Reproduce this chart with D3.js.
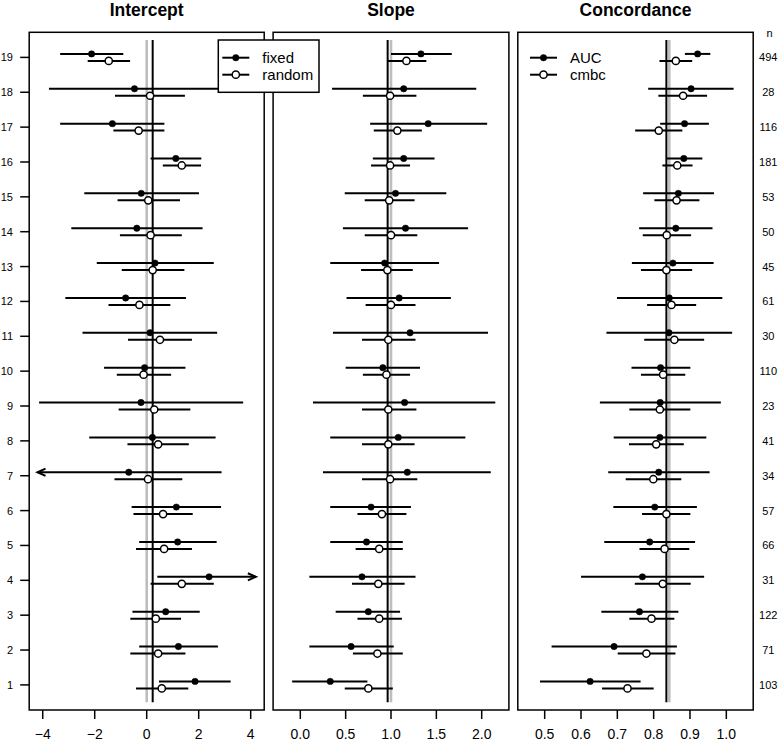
<!DOCTYPE html>
<html>
<head>
<meta charset="utf-8">
<script src="https://cdn.jsdelivr.net/npm/d3@7"></script>
<style>
  body { margin: 0; background: #fff; }
  svg { display: block; font-family: "Liberation Sans", Arial, Helvetica, sans-serif; }
</style>
</head>
<body>
<svg id="chart" width="778" height="743"></svg>
<script>
// ---------------- data (rows 1..19) ----------------
const rows = d3.range(1, 20);
const nLabels = [103, 71, 122, 31, 66, 57, 34, 41, 23, 110, 30, 61, 45, 50, 53, 181, 116, 28, 494];

const panelTitles = ["Intercept", "Slope", "Concordance"];
const legend1 = ["fixed", "random"];
const legend2 = ["AUC", "cmbc"];

const interceptTicks = [-4, -2, 0, 2, 4];
const slopeTicks = [0, 0.5, 1, 1.5, 2];
const concTicks = [0.5, 0.6, 0.7, 0.8, 0.9, 1.0];

// Intercept: fixed
const intFixedEst = [1.86, 1.22, 0.73, 2.40, 1.19, 1.14, -0.69, 0.22, -0.22, -0.08, 0.13, -0.81, 0.32, -0.38, -0.21, 1.12, -1.32, -0.47, -2.12];
const intFixedLo  = [0.47, -0.29, -0.55, 0.41, -0.29, -0.58, -4.80, -2.21, -4.14, -1.64, -2.47, -3.13, -1.92, -2.90, -2.40, 0.15, -3.33, -3.76, -3.33];
const intFixedHi  = [3.23, 2.74, 2.04, 4.70, 2.69, 2.86, 2.88, 2.65, 3.71, 1.49, 2.71, 1.51, 2.58, 2.15, 2.01, 2.10, 0.68, 3.60, -0.90];
// Intercept: random
const intRandEst = [0.58, 0.44, 0.35, 1.35, 0.67, 0.63, 0.05, 0.44, 0.29, -0.12, 0.51, -0.28, 0.23, 0.15, 0.06, 1.35, -0.31, 0.13, -1.46];
const intRandLo  = [-0.41, -0.63, -0.63, 0.15, -0.41, -0.51, -1.24, -0.74, -1.08, -1.15, -0.72, -1.47, -0.96, -1.03, -1.12, 0.62, -1.28, -1.22, -2.27];
const intRandHi  = [1.60, 1.49, 1.32, 2.58, 1.74, 1.77, 1.37, 1.62, 1.68, 0.94, 1.74, 0.91, 1.45, 1.35, 1.28, 2.09, 0.68, 1.47, -0.64];

// Slope: fixed
const slFixedEst = [0.33, 0.56, 0.75, 0.68, 0.73, 0.78, 1.18, 1.08, 1.15, 0.91, 1.21, 1.09, 0.93, 1.16, 1.05, 1.14, 1.41, 1.14, 1.33];
const slFixedLo  = [-0.09, 0.10, 0.39, 0.10, 0.33, 0.33, 0.25, 0.33, 0.14, 0.50, 0.36, 0.51, 0.33, 0.47, 0.49, 0.80, 0.77, 0.35, 1.00];
const slFixedHi  = [0.74, 1.03, 1.10, 1.27, 1.13, 1.22, 2.10, 1.82, 2.15, 1.32, 2.07, 1.66, 1.53, 1.85, 1.61, 1.48, 2.06, 1.94, 1.67];
// Slope: random
const slRandEst = [0.75, 0.85, 0.87, 0.86, 0.87, 0.90, 0.99, 0.97, 0.97, 0.95, 0.97, 1.00, 0.96, 1.00, 0.98, 0.99, 1.07, 0.99, 1.17];
const slRandLo  = [0.49, 0.58, 0.63, 0.57, 0.61, 0.63, 0.68, 0.68, 0.68, 0.69, 0.68, 0.72, 0.67, 0.71, 0.71, 0.78, 0.81, 0.69, 0.963];
const slRandHi  = [1.02, 1.13, 1.12, 1.15, 1.13, 1.17, 1.29, 1.26, 1.28, 1.21, 1.27, 1.27, 1.24, 1.29, 1.26, 1.21, 1.34, 1.28, 1.39];

// Concordance: AUC
const aucEst = [0.625, 0.691, 0.761, 0.769, 0.789, 0.803, 0.814, 0.817, 0.818, 0.819, 0.842, 0.843, 0.853, 0.861, 0.868, 0.883, 0.885, 0.903, 0.921];
const aucLo  = [0.487, 0.519, 0.656, 0.600, 0.664, 0.689, 0.675, 0.690, 0.652, 0.739, 0.670, 0.699, 0.740, 0.760, 0.771, 0.834, 0.818, 0.785, 0.886];
const aucHi  = [0.764, 0.864, 0.868, 0.939, 0.914, 0.919, 0.954, 0.945, 0.985, 0.901, 1.016, 0.989, 0.965, 0.962, 0.966, 0.934, 0.952, 1.020, 0.956];
// Concordance: cmbc
const cmbcEst = [0.728, 0.780, 0.794, 0.825, 0.830, 0.835, 0.799, 0.807, 0.817, 0.826, 0.857, 0.849, 0.835, 0.836, 0.863, 0.865, 0.814, 0.881, 0.861];
const cmbcLo  = [0.658, 0.701, 0.733, 0.748, 0.761, 0.768, 0.723, 0.732, 0.733, 0.765, 0.774, 0.782, 0.765, 0.770, 0.802, 0.824, 0.749, 0.813, 0.816];
const cmbcHi  = [0.800, 0.860, 0.857, 0.902, 0.898, 0.901, 0.876, 0.883, 0.901, 0.887, 0.939, 0.917, 0.906, 0.903, 0.926, 0.907, 0.879, 0.947, 0.906];

// reference lines: [black (pooled), gray (ideal)]
const refLines = [[0.23, 0], [0.963, 1.0], [0.835, 0.843]];

// ---------------- layout ----------------
const svg = d3.select("#chart");
const yTop = 32.3, yBottom = 710;
const y = d3.scaleLinear().domain([0.28, 19.72]).range([yBottom, yTop]);
const off = 0.1;

const panels = [
  { title: panelTitles[0], x: d3.scaleLinear().domain([-4.52, 4.52]).range([29.2, 264.2]),
    ticks: interceptTicks, fmt: d3.format("d"), clip: [-4.2, 4.2],
    s1: [intFixedEst, intFixedLo, intFixedHi], s2: [intRandEst, intRandLo, intRandHi], ref: refLines[0] },
  { title: panelTitles[1], x: d3.scaleLinear().domain([-0.3, 2.3]).range([273.1, 508.9]),
    ticks: slopeTicks, fmt: d3.format(".1f"), clip: null,
    s1: [slFixedEst, slFixedLo, slFixedHi], s2: [slRandEst, slRandLo, slRandHi], ref: refLines[1] },
  { title: panelTitles[2], x: d3.scaleLinear().domain([0.426, 1.074]).range([517.8, 753.2]),
    ticks: concTicks, fmt: d3.format(".1f"), clip: null,
    s1: [aucEst, aucLo, aucHi], s2: [cmbcEst, cmbcLo, cmbcHi], ref: refLines[2] }
];

const lw = 2;

function arrowHead(g, xTip, yy, dir) {
  const L = 8, H = 3.6;
  g.append("path")
    .attr("d", `M${xTip - dir * L},${yy - H}L${xTip},${yy}L${xTip - dir * L},${yy + H}`)
    .attr("fill", "none").attr("stroke", "#000").attr("stroke-width", lw);
}

panels.forEach((p, pi) => {
  const g = svg.append("g");
  const [x0, x1] = p.x.range();

  // reference lines
  g.append("line").attr("x1", p.x(p.ref[1])).attr("x2", p.x(p.ref[1]))
    .attr("y1", y(19.5)).attr("y2", y(0.5)).attr("stroke", "#bebebe").attr("stroke-width", 2.6);
  g.append("line").attr("x1", p.x(p.ref[0])).attr("x2", p.x(p.ref[0]))
    .attr("y1", y(19.5)).attr("y2", y(0.5)).attr("stroke", "#000").attr("stroke-width", lw);

  // series
  [[p.s1, off, true], [p.s2, -off, false]].forEach(([s, o, filled]) => {
    const [est, lo, hi] = s;
    rows.forEach((r, i) => {
      const yy = y(r + o);
      let a = lo[i], b = hi[i], arrL = false, arrR = false;
      if (p.clip) {
        if (a < p.clip[0]) { a = p.clip[0]; arrL = true; }
        if (b > p.clip[1]) { b = p.clip[1]; arrR = true; }
      }
      g.append("line").attr("x1", p.x(a)).attr("x2", p.x(b))
        .attr("y1", yy).attr("y2", yy).attr("stroke", "#000").attr("stroke-width", lw);
      if (arrL) arrowHead(g, p.x(a), yy, -1);
      if (arrR) arrowHead(g, p.x(b), yy, 1);
    });
    rows.forEach((r, i) => {
      const yy = y(r + o);
      g.append("circle").attr("cx", p.x(est[i])).attr("cy", yy)
        .attr("r", filled ? 3.2 : 3.6)
        .attr("fill", filled ? "#000" : "#fff")
        .attr("stroke", "#000").attr("stroke-width", filled ? 0.5 : 1.5);
    });
  });

  // box
  g.append("rect").attr("x", x0).attr("y", yTop).attr("width", x1 - x0).attr("height", yBottom - yTop)
    .attr("fill", "none").attr("stroke", "#000").attr("stroke-width", 1.5);

  // x axis
  const ax = g.append("g");
  p.ticks.forEach(t => {
    ax.append("line").attr("x1", p.x(t)).attr("x2", p.x(t)).attr("y1", yBottom).attr("y2", yBottom + 9)
      .attr("stroke", "#000").attr("stroke-width", 1.5);
    ax.append("text").attr("x", p.x(t)).attr("y", 739).attr("text-anchor", "middle")
      .attr("font-size", 14).text(p.fmt(t));
  });

  // title
  g.append("text").attr("x", (x0 + x1) / 2).attr("y", 16).attr("text-anchor", "middle")
    .attr("font-size", 17.5).attr("font-weight", "bold").text(p.title);
});

// y axis on first panel
const p0 = panels[0];
const px0 = p0.x.range()[0];
rows.forEach(r => {
  svg.append("line").attr("x1", px0 - 9).attr("x2", px0).attr("y1", y(r)).attr("y2", y(r))
    .attr("stroke", "#000").attr("stroke-width", 1.5);
  svg.append("text").attr("x", 13).attr("y", y(r)).attr("dy", "0.36em").attr("text-anchor", "end")
    .attr("font-size", 11).text(r);
});

// n labels on right
svg.append("text").attr("x", 769.5).attr("y", 33).attr("dy", "0.36em").attr("text-anchor", "middle")
  .attr("font-size", 11).text("n");
rows.forEach((r, i) => {
  svg.append("text").attr("x", 768.3).attr("y", y(r)).attr("dy", "0.36em").attr("text-anchor", "middle")
    .attr("font-size", 11).text(nLabels[i]);
});

// legends
function legend(lx, ly, labels, boxed) {
  const g = svg.append("g");
  if (boxed) {
    g.append("rect").attr("x", lx).attr("y", ly).attr("width", 100.7).attr("height", 52.3)
      .attr("fill", "#fff").attr("stroke", "#000").attr("stroke-width", 1.5);
  }
  labels.forEach((lab, i) => {
    const yy = ly + 17.7 + i * 17;
    g.append("line").attr("x1", lx + 4).attr("x2", lx + 31).attr("y1", yy).attr("y2", yy)
      .attr("stroke", "#000").attr("stroke-width", lw);
    g.append("circle").attr("cx", lx + 17.5).attr("cy", yy).attr("r", i === 0 ? 3.2 : 3.6)
      .attr("fill", i === 0 ? "#000" : "#fff").attr("stroke", "#000").attr("stroke-width", i === 0 ? 0.5 : 1.5);
    g.append("text").attr("x", lx + 44).attr("y", yy).attr("dy", "0.36em")
      .attr("font-size", 15).text(lab);
  });
}
legend(218.3, 40, legend1, true);
legend(526, 40, legend2, false);
</script>
</body>
</html>
